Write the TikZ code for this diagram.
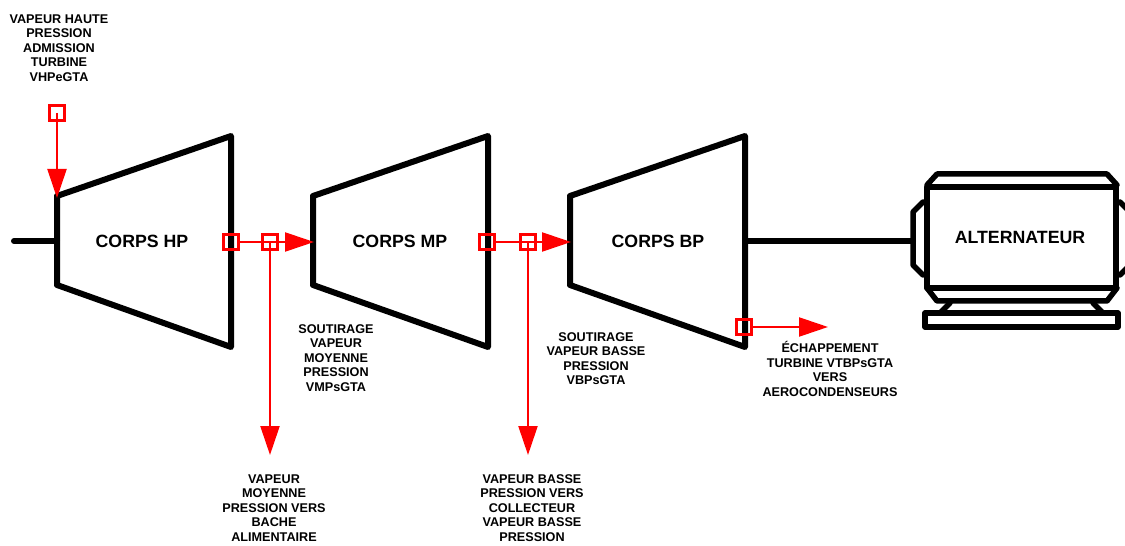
\documentclass[tikz,border=0pt]{standalone}
\usepackage{fontspec}
\setmainfont{Liberation Sans}
\usetikzlibrary{arrows.meta}
\tikzset{
    body/.style={line width=1.2mm,line join=round,line cap=round},
    frame/.style={line width=1.1mm,line join=round,line cap=round},
    tapbox/.style={draw=red,line width=0.45mm,minimum size=3mm,inner sep=0pt},
    flow/.style={red,line width=0.45mm,-{Triangle[length=5.8mm,width=3.8mm]}},
    biglabel/.style={font=\fontsize{10.1}{11}\selectfont\bfseries,inner sep=0pt},
    smalllabel/.style={font=\fontsize{7.2}{8.25}\selectfont\bfseries,align=center,inner sep=0pt}
}
\begin{document}
\begin{tikzpicture}[x=0.02cm,y=-0.02cm]
    \useasboundingbox (0,0) rectangle (1125,546);
    \draw[body] (57,196) -- (231,136) -- (231,347) -- (57,285) -- cycle;
    \draw[body] (313,196) -- (488,136) -- (488,347) -- (313,285) -- cycle;
    \draw[body] (570,196) -- (745,136) -- (745,347) -- (570,285) -- cycle;
    \node[biglabel] (hp) at (142,241) {CORPS HP};
    \node[biglabel] (mp) at (400,241) {CORPS MP};
    \node[biglabel] (bp) at (658,241) {CORPS BP};
    \draw[frame] (927,187) rectangle (1116,288);
    \node[biglabel] (alt) at (1020,237) {ALTERNATEUR};
    \draw[frame] (927,185) -- (937,174) -- (1107,174) -- (1117,185);
    \draw[frame] (923,202) -- (913,212) -- (913,265) -- (923,275);
    \draw[frame] (1120,202) -- (1130,212) -- (1130,265) -- (1120,275);
    \draw[frame] (927,288) -- (937,301) -- (1107,301) -- (1117,288);
    \draw[frame] (950,303) -- (940,313);
    \draw[frame] (1093,303) -- (1103,313);
    \draw[frame] (925,313) rectangle (1118,327);
    \coordinate (shaftin) at (14,241);
    \coordinate (hpin) at (57,241);
    \coordinate (bpshaft) at (745,241);
    \coordinate (altshaft) at (913,241);
    \draw[body] (shaftin) -- (hpin);
    \draw[body] (bpshaft) -- (altshaft);
    \node[tapbox] (vhp) at (57,113) {};
    \node[tapbox] (hpout) at (231,242) {};
    \node[tapbox] (vmp) at (270,242) {};
    \node[tapbox] (mpout) at (487,242) {};
    \node[tapbox] (vbp) at (528,242) {};
    \node[tapbox] (vtbp) at (744,327) {};
    \coordinate (hptop) at (57,198);
    \coordinate (mpin) at (314,242);
    \coordinate (bpin) at (571,242);
    \coordinate (vmpend) at (270,455);
    \coordinate (vbpend) at (528,455);
    \coordinate (vtbpend) at (828,327);
    \draw[flow] (vhp.center) -- (hptop);
    \draw[flow] (hpout) -- (mpin);
    \draw[flow] (vmp.center) -- (vmpend);
    \draw[flow] (mpout) -- (bpin);
    \draw[flow] (vbp.center) -- (vbpend);
    \draw[flow] (vtbp) -- (vtbpend);
    \node[smalllabel] (vhplabel) at (59,48) {VAPEUR HAUTE\\PRESSION\\ADMISSION\\TURBINE\\VHPeGTA};
    \node[smalllabel] (mplabel) at (336,358) {SOUTIRAGE\\VAPEUR\\MOYENNE\\PRESSION\\VMPsGTA};
    \node[smalllabel] (bplabel) at (596,358.5) {SOUTIRAGE\\VAPEUR BASSE\\PRESSION\\VBPsGTA};
    \node[smalllabel] (vtbplabel) at (830,369) {ÉCHAPPEMENT\\TURBINE VTBPsGTA\\VERS\\AEROCONDENSEURS};
    \node[smalllabel] (vmplabel) at (274,508) {VAPEUR\\MOYENNE\\PRESSION VERS\\BACHE\\ALIMENTAIRE};
    \node[smalllabel] (vbplabel) at (532,508) {VAPEUR BASSE\\PRESSION VERS\\COLLECTEUR\\VAPEUR BASSE\\PRESSION};
\end{tikzpicture}
\end{document}
